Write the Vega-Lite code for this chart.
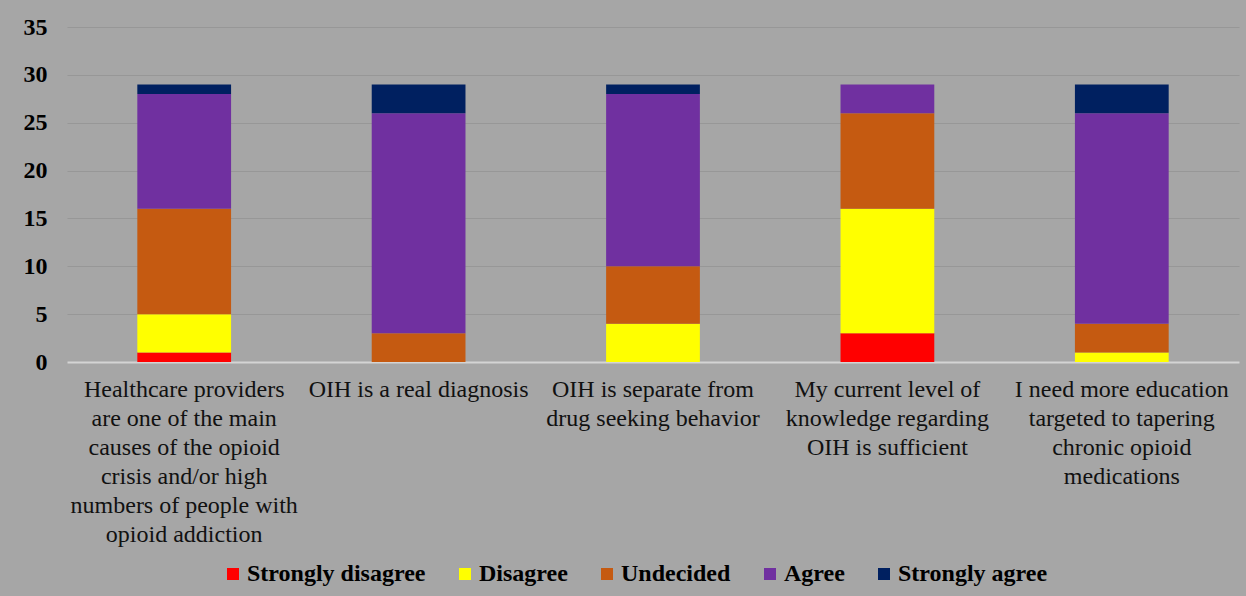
{
  "$schema": "https://vega.github.io/schema/vega-lite/v6.json",
  "autosize": {"type": "none"},
  "width": 1172,
  "height": 335,
  "padding": {"left": 67, "top": 27, "right": 7, "bottom": 234},
  "background": "#a6a6a6",
  "config": {
    "view": {"stroke": null},
    "font": "Liberation Serif"
  },
  "data": {
    "values": [
      {"statement": "Healthcare providers", "response": "Strongly disagree", "rank": 1, "count": 1},
      {"statement": "Healthcare providers", "response": "Disagree", "rank": 2, "count": 4},
      {"statement": "Healthcare providers", "response": "Undecided", "rank": 3, "count": 11},
      {"statement": "Healthcare providers", "response": "Agree", "rank": 4, "count": 12},
      {"statement": "Healthcare providers", "response": "Strongly agree", "rank": 5, "count": 1},
      {"statement": "Real diagnosis", "response": "Strongly disagree", "rank": 1, "count": 0},
      {"statement": "Real diagnosis", "response": "Disagree", "rank": 2, "count": 0},
      {"statement": "Real diagnosis", "response": "Undecided", "rank": 3, "count": 3},
      {"statement": "Real diagnosis", "response": "Agree", "rank": 4, "count": 23},
      {"statement": "Real diagnosis", "response": "Strongly agree", "rank": 5, "count": 3},
      {"statement": "Separate", "response": "Strongly disagree", "rank": 1, "count": 0},
      {"statement": "Separate", "response": "Disagree", "rank": 2, "count": 4},
      {"statement": "Separate", "response": "Undecided", "rank": 3, "count": 6},
      {"statement": "Separate", "response": "Agree", "rank": 4, "count": 18},
      {"statement": "Separate", "response": "Strongly agree", "rank": 5, "count": 1},
      {"statement": "Knowledge", "response": "Strongly disagree", "rank": 1, "count": 3},
      {"statement": "Knowledge", "response": "Disagree", "rank": 2, "count": 13},
      {"statement": "Knowledge", "response": "Undecided", "rank": 3, "count": 10},
      {"statement": "Knowledge", "response": "Agree", "rank": 4, "count": 3},
      {"statement": "Knowledge", "response": "Strongly agree", "rank": 5, "count": 0},
      {"statement": "Education", "response": "Strongly disagree", "rank": 1, "count": 0},
      {"statement": "Education", "response": "Disagree", "rank": 2, "count": 1},
      {"statement": "Education", "response": "Undecided", "rank": 3, "count": 3},
      {"statement": "Education", "response": "Agree", "rank": 4, "count": 22},
      {"statement": "Education", "response": "Strongly agree", "rank": 5, "count": 3}
    ]
  },
  "mark": {"type": "bar"},
  "encoding": {
    "x": {
      "field": "statement",
      "type": "nominal",
      "sort": null,
      "scale": {"paddingInner": 0.6, "paddingOuter": 0.3},
      "axis": {
        "title": null,
        "labelAngle": 0,
        "labelFont": "Liberation Serif",
        "labelFontSize": 24,
        "labelColor": "#111111",
        "labelLineHeight": 29,
        "labelPadding": 15.5,
        "labelBaseline": "top",
        "labelLimit": 400,
        "ticks": false,
        "domain": false,
        "labelExpr": "datum.value == 'Healthcare providers' ? ['Healthcare providers', 'are one of the main', 'causes of the opioid', 'crisis and/or high', 'numbers of people with', 'opioid addiction'] : datum.value == 'Real diagnosis' ? ['OIH is a real diagnosis'] : datum.value == 'Separate' ? ['OIH is separate from', 'drug seeking behavior'] : datum.value == 'Knowledge' ? ['My current level of', 'knowledge regarding', 'OIH is sufficient'] : ['I need more education', 'targeted to tapering', 'chronic opioid', 'medications']"
      }
    },
    "y": {
      "field": "count",
      "type": "quantitative",
      "aggregate": "sum",
      "stack": "zero",
      "scale": {"domain": [0, 35]},
      "axis": {
        "title": null,
        "values": [0, 5, 10, 15, 20, 25, 30, 35],
        "labelFont": "Liberation Serif",
        "labelFontSize": 24,
        "labelFontWeight": "bold",
        "labelColor": "#000000",
        "labelPadding": 20,
        "ticks": false,
        "domain": false,
        "gridColor": {"condition": {"test": "datum.value === 0", "value": "#d4d4d4"}, "value": "#979797"},
        "gridWidth": {"condition": {"test": "datum.value === 0", "value": 2}, "value": 1}
      }
    },
    "color": {
      "field": "response",
      "type": "nominal",
      "scale": {
        "domain": ["Strongly disagree", "Disagree", "Undecided", "Agree", "Strongly agree"],
        "range": ["#ff0000", "#ffff00", "#c55a11", "#7030a0", "#002060"]
      },
      "legend": {
        "title": null,
        "orient": "none",
        "legendX": 154,
        "legendY": 535,
        "direction": "horizontal",
        "symbolType": "square",
        "symbolSize": 144,
        "symbolStrokeWidth": 0,
        "labelFont": "Liberation Serif",
        "labelFontSize": 24,
        "labelFontWeight": "bold",
        "labelColor": "#000000",
        "labelLimit": 300,
        "labelOffset": 2,
        "columnPadding": 27,
        "symbolOffset": 0,
        "padding": 0
      }
    },
    "order": {"field": "rank", "type": "quantitative", "sort": "ascending"}
  }
}
